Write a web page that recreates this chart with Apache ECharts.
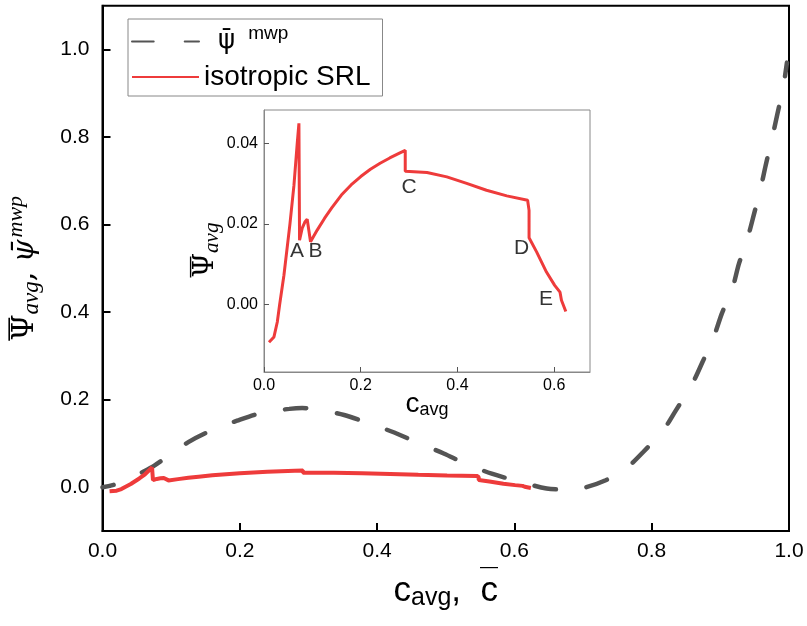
<!DOCTYPE html>
<html>
<head>
<meta charset="utf-8">
<script src="https://cdn.jsdelivr.net/npm/echarts@6/dist/echarts.min.js"></script>
<style>html,body{margin:0;padding:0;background:#fff;}#c{width:807px;height:626px;}</style>
</head>
<body>
<div id="c"></div>
<script>
// ---- data ----
const srlC = [0.0103, 0.0206, 0.0275, 0.0323, 0.0412, 0.0536, 0.0619, 0.0687, 0.0722, 0.0735, 0.079, 0.0845, 0.0893, 0.0962, 0.11, 0.125, 0.14, 0.16, 0.18, 0.2, 0.22, 0.24, 0.26, 0.28, 0.292, 0.292, 0.337, 0.378, 0.419, 0.46, 0.502, 0.545, 0.548, 0.548, 0.5636, 0.584, 0.601, 0.612, 0.615, 0.624];
const srlPsi = [-0.0093, -0.0080, -0.0043, 0.0, 0.0073, 0.0200, 0.0296, 0.0400, 0.0450, 0.0160, 0.0190, 0.0205, 0.0212, 0.0156, 0.0185, 0.0214, 0.0240, 0.0272, 0.0297, 0.0318, 0.0336, 0.0351, 0.0364, 0.0376, 0.0383, 0.0331, 0.0328, 0.0317, 0.0301, 0.0284, 0.0270, 0.0259, 0.0234, 0.0166, 0.0131, 0.0081, 0.0048, 0.0031, 0.0011, -0.0017];
const mwpC = [0, 0.02, 0.04, 0.06, 0.076, 0.09, 0.125, 0.159, 0.196, 0.232, 0.272, 0.291, 0.311, 0.352, 0.384, 0.425, 0.457, 0.497, 0.53, 0.567, 0.609, 0.647, 0.666, 0.684, 0.70, 0.733, 0.762, 0.788, 0.818, 0.835, 0.859, 0.874, 0.891, 0.902, 0.918, 0.927, 0.94, 0.949, 0.959, 0.966, 0.976, 0.983, 0.992, 0.997];
const mwpPsi = [0, 0.007, 0.02, 0.036, 0.05, 0.065, 0.103, 0.13, 0.152, 0.17, 0.179, 0.181, 0.178, 0.165, 0.148, 0.125, 0.103, 0.077, 0.053, 0.031, 0.012, -0.003, -0.005, -0.004, -0.002, 0.016, 0.042, 0.081, 0.133, 0.175, 0.236, 0.286, 0.346, 0.396, 0.457, 0.51, 0.571, 0.624, 0.685, 0.735, 0.802, 0.852, 0.918, 0.97];
const mainXTicks = [0, 0.2, 0.4, 0.6, 0.8, 1.0];
const mainYTicks = [0, 0.2, 0.4, 0.6, 0.8, 1.0];
const insetXTicks = [0, 0.2, 0.4, 0.6];
const insetYTicks = [0, 0.02, 0.04];
const annotLabels = ['A', 'B', 'C', 'D', 'E'];
const annotC = [0.068, 0.1066, 0.2998, 0.5328, 0.5829];
const annotPsi = [0.0132, 0.0132, 0.0292, 0.0141, 0.0014];
const legendNames = ['mwp', 'isotropic SRL'];

// ---- build ----
const zip = (a, b) => a.map((v, i) => [v, b[i]]);
const RED = '#ee3b3b';
const GRAY = '#545454';
const SANS = 'Liberation Sans, Arial, sans-serif';
const SERIF = 'DejaVu Serif, Liberation Serif, serif';
const LSERIF = 'Liberation Serif, DejaVu Serif, serif';

const chart = echarts.init(document.getElementById('c'), null, {renderer: 'canvas'});
chart.setOption({
  animation: false,
  backgroundColor: '#fff',
  grid: [
    {left: 102.5, right: 18, top: 5.7, bottom: 95, outerBoundsMode: 'none', containLabel: false, show: true, borderColor: '#000', borderWidth: 2, backgroundColor: 'transparent', z: 0},
    {left: 264, right: 217, top: 110, bottom: 254, outerBoundsMode: 'none', containLabel: false, show: true, borderColor: '#888', borderWidth: 1, backgroundColor: '#fff', z: 10}
  ],
  legend: {
    orient: 'vertical', left: 128, top: 19,
    padding: [5, 12, 4, 3], itemGap: 3,
    itemWidth: 67, itemHeight: 14,
    borderColor: '#888', borderWidth: 1, backgroundColor: '#fff',
    itemStyle: {opacity: 0},
    lineStyle: {dashOffset: 0},
    data: legendNames,
    formatter: n => n === 'mwp' ? '{psi|ψ̄}{sup|mwp}' : '{txt|' + n + '}',
    textStyle: {
      fontFamily: SANS, fontSize: 28, color: '#000', lineHeight: 30,
      rich: {
        psi: {fontFamily: 'DejaVu Sans, Liberation Sans', fontSize: 26, color: '#000', lineHeight: 30, padding: [0, 0, 0, 14]},
        sup: {fontFamily: SANS, fontSize: 19, color: '#000', padding: [0, 0, 16, 13], lineHeight: 30},
        txt: {fontFamily: SANS, fontSize: 28, color: '#000', lineHeight: 30}
      }
    }
  },
  xAxis: [
    {
      gridIndex: 0, type: 'value', min: 0, max: 1, interval: 0.2,
      axisLine: {onZero: false, lineStyle: {color: '#000', width: 2}},
      axisTick: {inside: true, length: 8, lineStyle: {color: '#000', width: 2}, customValues: mainXTicks},
      axisLabel: {customValues: mainXTicks, formatter: v => v.toFixed(1), fontFamily: SANS, fontSize: 21, color: '#000', margin: 10},
      splitLine: {show: false},
      nameMoveOverlap: false,
      name: '{c|c}{s|avg}{c|,  c}{bar|—}', nameLocation: 'middle', nameGap: 40,
      nameTextStyle: {rich: {
        c: {fontFamily: SANS, fontSize: 35, color: '#000', lineHeight: 40},
        bar: {fontFamily: SANS, fontSize: 18, color: '#000', width: 0, align: 'right', lineHeight: 2, padding: [0, 0, 48, 0]},
        s: {fontFamily: SANS, fontSize: 25, color: '#000', padding: [14, 0, 0, 0]}
      }}
    },
    {
      gridIndex: 1, type: 'value', min: 0, max: 0.674, z: 11,
      axisLine: {onZero: false, lineStyle: {color: '#888', width: 1}},
      axisTick: {inside: true, length: 5, lineStyle: {color: '#555', width: 1}, customValues: insetXTicks},
      axisLabel: {customValues: insetXTicks, formatter: v => v.toFixed(1), fontFamily: SANS, fontSize: 16, color: '#000', margin: 6},
      splitLine: {show: false},
      nameMoveOverlap: false,
      name: '{c|c}{s|avg}', nameLocation: 'middle', nameGap: 17,
      nameTextStyle: {rich: {
        c: {fontFamily: SANS, fontSize: 28, color: '#000'},
        s: {fontFamily: SANS, fontSize: 18, color: '#000', padding: [12, 0, 0, 0]}
      }}
    }
  ],
  yAxis: [
    {
      gridIndex: 0, type: 'value', min: -0.1, max: 1.1,
      axisLine: {onZero: false, lineStyle: {color: '#000', width: 2}},
      axisTick: {inside: true, length: 8, lineStyle: {color: '#000', width: 2}, customValues: mainYTicks},
      axisLabel: {customValues: mainYTicks, formatter: v => v.toFixed(1), fontFamily: SANS, fontSize: 21, color: '#000', margin: 13},
      splitLine: {show: false},
      nameMoveOverlap: false,
      name: '{bar|—}{P|Ψ}{s|avg}{P|, }{p|ψ̄}{u|mwp}', nameLocation: 'middle', nameGap: 57, nameRotate: 90,
      nameTextStyle: {rich: {
        bar: {fontFamily: SANS, fontSize: 23, color: '#000', width: 0, align: 'left', lineHeight: 2, padding: [0, 0, 34, 0]},
        P: {fontFamily: SERIF, fontSize: 30, color: '#000', lineHeight: 36},
        p: {fontFamily: SERIF, fontStyle: 'italic', fontSize: 29, color: '#000'},
        s: {fontFamily: LSERIF, fontStyle: 'italic', fontSize: 23, color: '#000', padding: [12, 0, 0, 0]},
        u: {fontFamily: LSERIF, fontStyle: 'italic', fontSize: 22, color: '#000', padding: [0, 0, 18, 2]}
      }}
    },
    {
      gridIndex: 1, type: 'value', min: -0.0167, max: 0.0483, z: 11,
      axisLine: {onZero: false, lineStyle: {color: '#888', width: 1}},
      axisTick: {inside: true, length: 5, lineStyle: {color: '#555', width: 1}, customValues: insetYTicks},
      axisLabel: {customValues: insetYTicks, formatter: v => v.toFixed(2), fontFamily: SANS, fontSize: 16, color: '#000', margin: 6},
      splitLine: {show: false},
      nameMoveOverlap: false,
      name: '{bar|—}{P|Ψ}{s|avg}', nameLocation: 'middle', nameGap: 41, nameRotate: 90,
      nameTextStyle: {padding: [0, 18, 0, 0], rich: {
        bar: {fontFamily: SANS, fontSize: 21, color: '#000', width: 0, align: 'left', lineHeight: 2, padding: [0, 0, 32, 0]},
        P: {fontFamily: SERIF, fontSize: 28, color: '#000', lineHeight: 34},
        s: {fontFamily: LSERIF, fontStyle: 'italic', fontSize: 21, color: '#000', padding: [12, 0, 0, 0]}
      }}
    }
  ],
  series: [
    {
      name: 'mwp', type: 'line', xAxisIndex: 0, yAxisIndex: 0, z: 2,
      data: zip(mwpC, mwpPsi), symbol: 'none', smooth: 0.3,
      lineStyle: {color: GRAY, width: 4.5, type: [21.7, 31], dashOffset: 10.5, cap: 'round'},
      itemStyle: {color: GRAY}
    },
    {
      name: 'isotropic SRL', type: 'line', xAxisIndex: 0, yAxisIndex: 0, z: 3,
      data: zip(srlC, srlPsi), symbol: 'none',
      lineStyle: {color: RED, width: 4}, itemStyle: {color: RED}
    },
    {
      name: 'inset', type: 'line', xAxisIndex: 1, yAxisIndex: 1, z: 12,
      data: zip(srlC, srlPsi), symbol: 'none',
      lineStyle: {color: RED, width: 3}, itemStyle: {color: RED}
    },
    {
      name: 'labels', type: 'scatter', xAxisIndex: 1, yAxisIndex: 1, z: 13,
      data: annotLabels.map((t, i) => ({name: t, value: [annotC[i], annotPsi[i]]})),
      symbolSize: 0,
      label: {show: true, position: 'inside', formatter: p => p.name, fontFamily: SANS, fontSize: 21, color: '#000'}
    }
  ]
});
</script>
</body>
</html>
